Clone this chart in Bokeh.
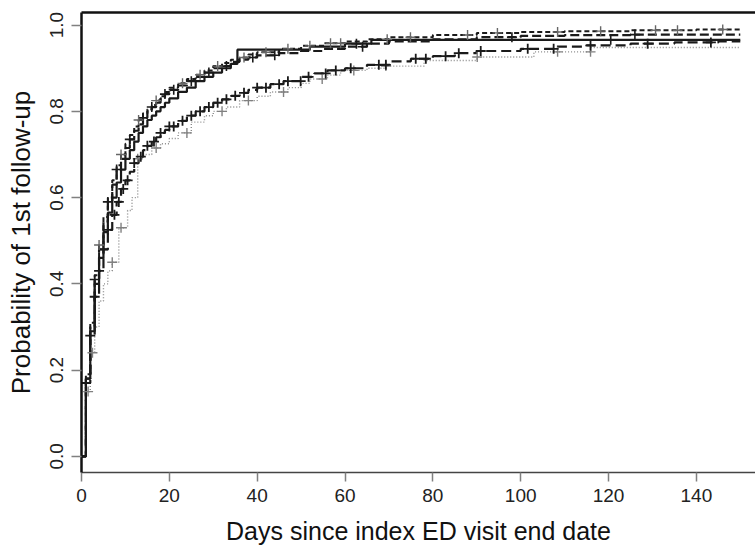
import numpy as np
from bokeh.plotting import figure
from bokeh.models import Range1d, LinearAxis, FixedTicker
from bokeh.embed import file_html
from bokeh.resources import INLINE

# ---------------- data ----------------
x_ticks = [0, 20, 40, 60, 80, 100, 120, 140]
y_ticks = [0.0, 0.2, 0.4, 0.6, 0.8, 1.0]
y_tick_labels = ["0.0", "0.2", "0.4", "0.6", "0.8", "1.0"]
x_title = "Days since index ED visit end date"
y_title = "Probability of 1st follow-up"

# short-dashed curve (upper group)
sd_t = [0, 1, 2, 3, 4, 5, 6, 7, 8, 9, 10, 11, 12, 13, 14, 15, 16, 17, 18, 19, 20,
        22, 24, 26, 28, 30, 32, 34, 36, 38, 40, 45, 50, 55, 60, 65, 70, 80, 90, 100, 110, 125, 140, 150]
sd_v = [0, .19, .31, .42, .49, .555, .60, .64, .675, .70, .725, .745, .765, .78, .795, .805, .815, .825, .835, .845, .855,
        .865, .875, .885, .895, .905, .912, .92, .925, .932, .937, .945, .952, .958, .962, .967, .972, .977, .982, .984, .986, .988, .99, .99]
sd_cens = [4, 9, 13, 17, 23, 27, 31, 37, 42, 47, 52, 56.7, 59, 69.6, 74.9, 87.9, 94.7, 108.4, 118.2, 130.7, 135.7, 146]

# long-dashed curve (upper group)
ld1_t = [0, 1, 2, 3, 4, 5, 6, 7, 8, 9, 10, 11, 12, 13, 14, 15, 16, 17, 18, 19, 20,
         22, 24, 26, 28, 30, 32, 34, 36, 38, 40, 45, 50, 55, 60, 65, 70, 80, 90, 100, 110, 125, 150]
ld1_v = [0, .18, .30, .41, .48, .545, .59, .63, .665, .69, .715, .735, .755, .77, .785, .80, .81, .82, .83, .84, .85,
         .86, .87, .88, .89, .90, .905, .915, .92, .925, .93, .935, .94, .945, .95, .957, .962, .967, .972, .975, .977, .978, .978]
ld1_cens = [3, 6, 8, 11, 14, 16, 19, 21, 25, 29, 33, 39, 44, 64, 98, 126]

# solid curve (upper group)
s_t = [0, 1, 2, 3, 4, 5, 6, 7, 8, 9, 10, 11, 12, 13, 14, 15, 16, 17, 18, 19, 20,
       22, 24, 26, 28, 30, 32, 34, 35.5, 52, 60, 66, 150]
s_v = [0, .18, .29, .40, .46, .52, .565, .60, .635, .665, .69, .71, .73, .75, .765, .78, .79, .80, .81, .82, .83,
       .845, .855, .87, .88, .89, .90, .91, .943, .95, .957, .966, .966]
s_cens = [62.6, 120.5]

# long-dashed curve (lower group)
ld2_t = [0, 1, 2, 3, 4, 5, 6, 7, 8, 9, 10, 11, 12, 13, 14, 15, 16, 17, 18, 19, 20,
         22, 24, 26, 28, 30, 32, 34, 36, 38, 40, 43, 46, 50, 53, 56, 60, 65, 70, 75, 80, 85, 90, 100, 108, 115, 125, 135, 145, 150]
ld2_v = [0, .17, .28, .37, .43, .48, .525, .56, .59, .62, .64, .66, .68, .695, .71, .72, .73, .74, .75, .757, .765,
         .778, .79, .80, .81, .82, .828, .836, .843, .85, .855, .863, .87, .88, .888, .895, .90, .908, .916, .922, .928, .935, .94, .945, .95, .953, .957, .96, .962, .962]
ld2_cens = [1, 2, 3, 4, 5, 6, 7.5, 8.5, 9.5, 10.5, 12, 13.5, 15, 16.5, 18, 20, 21, 23, 25, 27, 29, 31, 33, 35, 37,
            40, 42, 45, 47, 49.9, 51.7, 55.6, 57.9, 61.3, 67.7, 69.3, 76.1, 78.4, 82.9, 85.9, 90.9, 101.6, 107.5, 115.9, 128.9, 143.3]

# dotted grey curve (lower group)
dt_t = [0, 1, 2, 3, 4, 5, 6, 7, 8.5, 10.5, 11.5, 12.8, 14, 16, 18, 20, 22, 25, 28, 30, 33, 36, 40, 43, 47, 50, 52,
        56, 59, 65, 69, 78, 90, 103, 116, 150]
dt_v = [0, .15, .24, .30, .36, .40, .43, .45, .53, .57, .60, .69, .70, .715, .725, .737, .75, .775, .79, .80, .81, .825,
        .835, .845, .855, .865, .875, .884, .895, .90, .905, .918, .926, .938, .948, .948]
dt_cens = [1.5, 2.5, 7, 9, 12.8, 17, 24, 32, 38, 46, 54.8, 62, 69.3, 90.1, 108.4, 115.9]


def cens_y(t, v, c):
    t = np.asarray(t, float)
    v = np.asarray(v, float)
    idx = np.searchsorted(t, np.asarray(c, float), side="right") - 1
    return v[idx]


FONT = "Liberation Sans"

p = figure(width=755, height=547, output_backend="svg", toolbar_location=None,
           x_range=Range1d(0, 153.46), y_range=Range1d(-0.0376, 1.0293),
           min_border_left=81, min_border_right=0, min_border_top=12, min_border_bottom=73)
p.outline_line_color = None
p.xgrid.visible = False
p.ygrid.visible = False
p.background_fill_color = "white"
p.border_fill_color = "white"

# curves
p.step(dt_t, dt_v, mode="after", line_color="#8a8a8a", line_width=1.4, line_dash="1 2")
p.step(ld2_t, ld2_v, mode="after", line_color="#1a1a1a", line_width=2.2, line_dash="10 5")
p.step(s_t, s_v, mode="after", line_color="#1a1a1a", line_width=2.2)
p.step(ld1_t, ld1_v, mode="after", line_color="#1a1a1a", line_width=2.2, line_dash="9 4")
p.step(sd_t, sd_v, mode="after", line_color="#1a1a1a", line_width=2.0, line_dash="5 3")

# censor marks
p.scatter(dt_cens, cens_y(dt_t, dt_v, dt_cens), marker="cross", size=10, line_color="#808080", line_width=1.4)
p.scatter(ld2_cens, cens_y(ld2_t, ld2_v, ld2_cens), marker="cross", size=10, line_color="#1a1a1a", line_width=1.8)
p.scatter(s_cens, cens_y(s_t, s_v, s_cens), marker="cross", size=10, line_color="#1a1a1a", line_width=1.6)
p.scatter(ld1_cens, cens_y(ld1_t, ld1_v, ld1_cens), marker="cross", size=10, line_color="#1a1a1a", line_width=1.6)
p.scatter(sd_cens, cens_y(sd_t, sd_v, sd_cens), marker="cross", size=10, line_color="#666666", line_width=1.4)

# axes
for ax in (p.xaxis[0], p.yaxis[0]):
    ax.major_label_text_font = FONT
    ax.major_label_text_font_size = "19px"
    ax.major_label_text_color = "#222222"
    ax.axis_label_text_font = FONT
    ax.axis_label_text_font_style = "normal"
    ax.axis_label_text_color = "#111111"
    ax.minor_tick_line_color = None
    ax.major_tick_in = 0
    ax.major_tick_line_color = "#808080"
    ax.major_tick_line_width = 1.5

xa = p.xaxis[0]
xa.ticker = FixedTicker(ticks=x_ticks)
xa.axis_label = x_title
xa.axis_label_text_font_size = "25px"
xa.axis_line_color = "#444444"
xa.axis_line_width = 1.5
xa.major_tick_out = 9
xa.major_label_standoff = 7
xa.axis_label_standoff = 12

ya = p.yaxis[0]
ya.ticker = FixedTicker(ticks=y_ticks)
ya.major_label_overrides = {t: l for t, l in zip(y_ticks, y_tick_labels)}
ya.axis_label = y_title
ya.axis_label_text_font_size = "26px"
ya.axis_line_color = "#111111"
ya.axis_line_width = 2.5
ya.major_tick_out = 10
ya.major_label_orientation = "vertical"
ya.major_label_standoff = 8
ya.axis_label_standoff = 12

top = LinearAxis(ticker=FixedTicker(ticks=[]), axis_line_color="#111111", axis_line_width=2.5,
                 major_tick_out=0, major_tick_in=0, minor_tick_out=0, minor_tick_in=0,
                 major_label_text_font_size="0px", major_label_standoff=0)
p.add_layout(top, "above")

open("out.html", "w").write(file_html(p, INLINE))
